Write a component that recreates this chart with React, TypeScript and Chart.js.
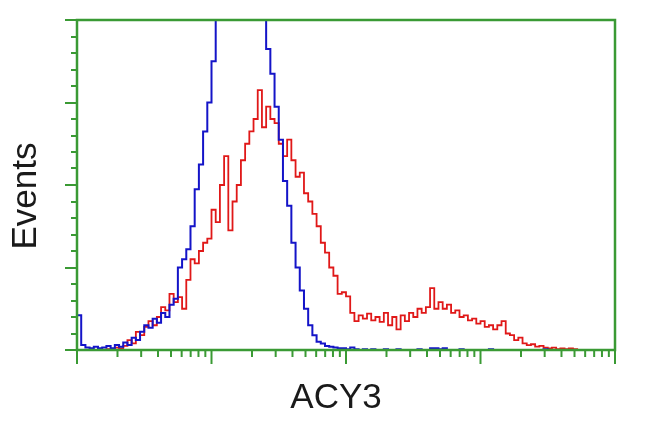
import React, { useEffect, useRef } from "react";
import { Chart, registerables } from "chart.js";

Chart.register(...registerables);

// Channel numbers (256-channel log display, 4 decades)
const channels = [
  0, 2, 4, 6, 8, 10, 12, 14, 16, 18, 20, 22, 24, 26, 28, 30, 32, 34, 36, 38,
  40, 42, 44, 46, 48, 50, 52, 54, 56, 58, 60, 62, 64, 66, 68, 70, 72, 74, 76, 78,
  80, 82, 84, 86, 88, 90, 92, 94, 96, 98, 100, 102, 104, 106, 108, 110, 112, 114, 116, 118,
  120, 122, 124, 126, 128, 130, 132, 134, 136, 138, 140, 142, 144, 146, 148, 150, 152, 154, 156, 158,
  160, 162, 164, 166, 168, 170, 172, 174, 176, 178, 180, 182, 184, 186, 188, 190, 192, 194, 196, 198,
  200, 202, 204, 206, 208, 210, 212, 214, 216, 218, 220, 222, 224, 226, 228, 230, 232, 234, 236, 238,
  240, 242, 244, 246, 248, 250, 252, 254,
];

// Isotype control (blue)
const blueCounts = [
  42, 6, 3, 2, 4, 2, 3, 5, 2, 6, 4, 9, 6, 15, 12, 22, 30, 27, 38, 33,
  45, 40, 55, 62, 100, 110, 122, 150, 195, 225, 265, 300, 350, 410, 450, 480, 500, 510, 505, 500,
  490, 480, 470, 450, 405, 365, 335, 295, 255, 205, 175, 130, 100, 72, 50, 30, 18, 10, 8, 5,
  4, 3, 2, 2, 1, 3, 1, 0, 1, 0, 1, 0, 0, 1, 0, 0, 1, 0, 0, 0,
  0, 1, 0, 0, 2, 2, 1, 2, 0, 0, 0, 1, 0, 0, 0, 0, 0, 0, 1, 0,
  0, 0, 0, 0, 0, 0, 0, 0, 0, 0, 0, 1, 0, 0, 0, 0, 0, 0, 0, 0,
  0, 0, 0, 0, 0, 0, 0, 0,
];

// ACY3 antibody (red)
const redCounts = [
  0, 0, 0, 0, 0, 0, 0, 1, 0, 3, 2, 5, 12, 8, 22, 18, 28, 35, 30, 40,
  52, 48, 68, 58, 64, 50, 85, 110, 105, 120, 130, 135, 170, 155, 200, 235, 145, 180, 200, 230,
  250, 265, 280, 315, 270, 295, 280, 275, 250, 235, 255, 230, 210, 215, 190, 180, 165, 150, 130, 118,
  100, 90, 68, 70, 65, 45, 35, 42, 38, 44, 36, 40, 34, 45, 30, 40, 25, 42, 35, 45,
  40, 50, 45, 52, 75, 50, 58, 50, 55, 45, 48, 40, 42, 36, 38, 32, 35, 28, 30, 25,
  30, 35, 20, 18, 12, 15, 8, 6, 7, 4, 5, 3, 2, 3, 1, 2, 1, 2, 1, 0,
  0, 0, 0, 0, 0, 0, 0, 0,
];

// Axis tick definitions
const yMax = 400;
const yMajorStep = 100;
const yMinorStep = 20;
const xDecades = [1, 10, 100, 1000, 10000];
const xMinorMultipliers = [2, 3, 4, 5, 6, 7, 8, 9];
const channelsPerDecade = 64;

const yTitle = "Events";
const xTitle = "ACY3";

const GREEN = "#3a9a34";
const FONT = "'Liberation Sans', Arial, sans-serif";

const framePlugin = {
  id: "frame",
  afterDatasetsDraw(chart: any) {
    const { ctx, chartArea, scales } = chart;
    const { left, right, top, bottom } = chartArea;
    const xs = scales.x;
    const ys = scales.y;
    ctx.save();
    ctx.strokeStyle = GREEN;
    ctx.lineWidth = 2.5;
    ctx.strokeRect(left, top, right - left, bottom - top);

    ctx.lineWidth = 2;
    // y ticks
    for (let v = 0; v <= yMax; v += yMinorStep) {
      const py = Math.round(ys.getPixelForValue(v));
      const major = v % yMajorStep === 0;
      const len = major ? 12 : 6;
      ctx.beginPath();
      ctx.moveTo(left, py);
      ctx.lineTo(left - len, py);
      ctx.stroke();
    }
    // x ticks (log decades)
    const chanOf = (val: number) => channelsPerDecade * Math.log10(val);
    xDecades.forEach((d, i) => {
      const px = xs.getPixelForValue(chanOf(d));
      ctx.beginPath();
      ctx.moveTo(px, bottom);
      ctx.lineTo(px, bottom + 14);
      ctx.stroke();
      if (i < xDecades.length - 1) {
        xMinorMultipliers.forEach((m) => {
          const mx = xs.getPixelForValue(chanOf(d * m));
          ctx.beginPath();
          ctx.moveTo(mx, bottom);
          ctx.lineTo(mx, bottom + 7);
          ctx.stroke();
        });
      }
    });

    // titles
    ctx.fillStyle = "#1a1a1a";
    ctx.font = `35px ${FONT}`;
    ctx.textAlign = "center";
    ctx.textBaseline = "middle";
    ctx.fillText(xTitle, (left + right) / 2 - 10, 398);
    ctx.save();
    ctx.translate(26, 196);
    ctx.rotate(-Math.PI / 2);
    ctx.fillText(yTitle, 0, 0);
    ctx.restore();
    ctx.restore();
  },
};

export default function App() {
  const ref = useRef<HTMLCanvasElement>(null);
  useEffect(() => {
    if (!ref.current) return;
    const chart = new Chart(ref.current, {
      type: "line",
      data: {
        datasets: [
          {
            label: "Control",
            data: channels.map((c, i) => ({ x: c, y: blueCounts[i] })),
            borderColor: "#1414c8",
            borderWidth: 2,
            pointRadius: 0,
            stepped: true,
            tension: 0,
          },
          {
            label: "ACY3",
            data: channels.map((c, i) => ({ x: c, y: redCounts[i] })),
            borderColor: "#e01818",
            borderWidth: 1.8,
            pointRadius: 0,
            stepped: true,
            tension: 0,
          },
        ],
      },
      options: {
        responsive: false,
        animation: false,
        layout: { padding: { left: 77, right: 35, top: 20, bottom: 82 } },
        plugins: { legend: { display: false }, tooltip: { enabled: false } },
        scales: {
          x: { type: "linear", min: 0, max: 256, display: false },
          y: { type: "linear", min: 0, max: yMax, display: false },
        },
      },
      plugins: [framePlugin],
    });
    return () => chart.destroy();
  }, []);
  return (
    <div style={{ position: "fixed", left: 0, top: 0, width: 650, height: 432, background: "#fff" }}>
      <canvas ref={ref} width={650} height={432} />
    </div>
  );
}
